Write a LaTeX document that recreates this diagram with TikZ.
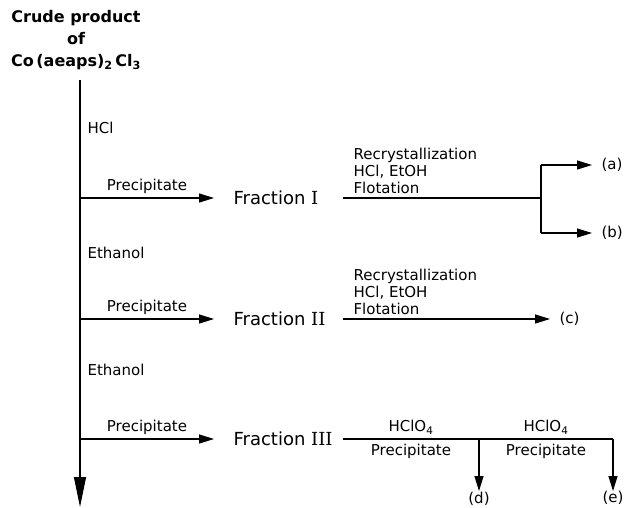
\documentclass[tikz,border=0pt]{standalone}
\usepackage{fontspec}
\setmainfont{DejaVu Sans}
\newfontfamily\numfont{DejaVu Serif}
\usetikzlibrary{arrows.meta,calc}

\tikzset{
  lbl/.style={font=\fontsize{15}{17}\selectfont, inner sep=1pt},
  frac/.style={font=\fontsize{18}{20}\selectfont, anchor=west, inner sep=0pt},
  arr/.style={-{Triangle[length=15pt,width=9pt]}},
}

\begin{document}
\begin{tikzpicture}[x=1pt, y=-1pt, line width=1.2pt]
    \useasboundingbox (0,0) rectangle (624,507);

    % Starting material
    \node[font=\bfseries\fontsize{16}{22}\selectfont, align=center] (crude) at (76,40)
        {Crude product\\of\\Co\,(aeaps)\textsubscript{2}\,Cl\textsubscript{3}};

    % Main column
    \coordinate (top) at (80,80);
    \coordinate (b1) at (80,198);
    \coordinate (b2) at (80,319);
    \coordinate (b3) at (80,439);
    \coordinate (bot) at (80,507);
    \draw[-{Triangle[length=30pt,width=12pt]}] (top) -- (bot);

    \node[lbl, anchor=west] (hcl) at (86,128) {HCl};
    \node[lbl, anchor=west] (eth1) at (86,253) {Ethanol};
    \node[lbl, anchor=west] (eth2) at (86,370) {Ethanol};

    % Fractions
    \node[frac] (fr1) at (233,198) {Fraction\ {\numfont I}};
    \node[frac] (fr2) at (233,319) {Fraction\ {\numfont II}};
    \node[frac] (fr3) at (233,439) {Fraction\ {\numfont III}};

    \draw[arr] (b1) -- node[lbl, above=3pt] {Precipitate} ([xshift=-19pt]fr1.west);
    \draw[arr] (b2) -- node[lbl, above=3pt] {Precipitate} ([xshift=-19pt]fr2.west);
    \draw[arr] (b3) -- node[lbl, above=3pt] {Precipitate} ([xshift=-19pt]fr3.west);

    % Fraction I
    \coordinate (r1) at (343,198);
    \coordinate (j1) at (541,198);
    \coordinate (j1a) at (541,165);
    \coordinate (j1b) at (541,233);
    \node[lbl, align=left, anchor=south west] (rc1) at ([xshift=9pt,yshift=3pt]r1)
        {Recrystallization\\HCl, EtOH\\Flotation};
    \node[lbl, anchor=west] (la) at (600,165) {(a)};
    \node[lbl, anchor=west] (lb) at (600,233) {(b)};
    \draw (r1) -- (j1);
    \draw (j1a) -- (j1b);
    \draw[arr] (j1a) -- ([xshift=-8pt]la.west);
    \draw[arr] (j1b) -- ([xshift=-8pt]lb.west);

    % Fraction II
    \coordinate (r2) at (343,319);
    \node[lbl, align=left, anchor=south west] (rc2) at ([xshift=9pt,yshift=3pt]r2)
        {Recrystallization\\HCl, EtOH\\Flotation};
    \node[lbl, anchor=west] (lc) at (558,319) {(c)};
    \draw[arr] (r2) -- ([xshift=-8pt]lc.west);

    % Fraction III
    \coordinate (r3) at (343,439);
    \coordinate (j3) at (479,439);
    \coordinate (e3) at (613,439);
    \node[lbl, anchor=north, inner sep=0pt] (ld) at (479,491) {(d)};
    \node[lbl, anchor=north, inner sep=0pt] (le) at (613,491) {(e)};
    \draw (r3) -- (e3);
    \draw[arr] (j3) -- (ld.north);
    \draw[arr] (e3) -- (le.north);
    \node[lbl, above=3pt] (h1) at ($(r3)!0.5!(j3)$) {HClO\textsubscript{4}};
    \node[lbl, above=3pt] (h2) at ($(j3)!0.5!(e3)$) {HClO\textsubscript{4}};
    \node[lbl, below=3pt] (p1) at ($(r3)!0.5!(j3)$) {Precipitate};
    \node[lbl, below=3pt] (p2) at ($(j3)!0.5!(e3)$) {Precipitate};

\end{tikzpicture}
\end{document}
